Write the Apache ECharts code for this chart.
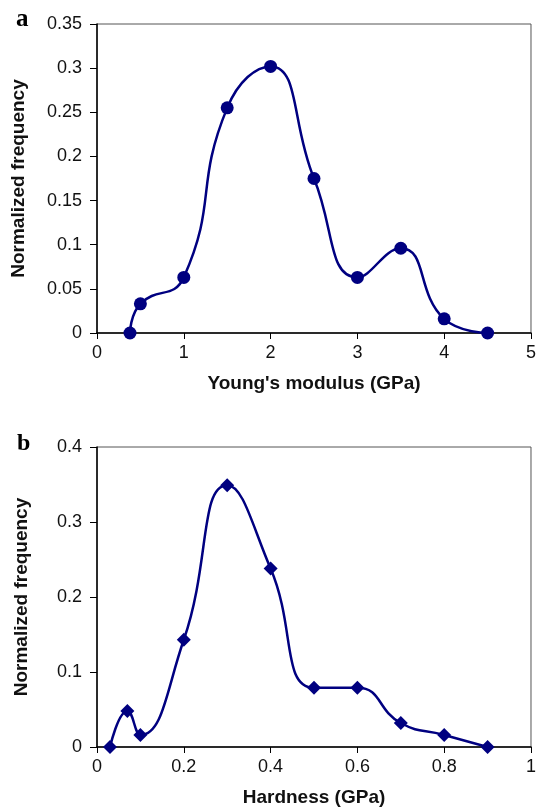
<!DOCTYPE html>
<html>
<head>
<meta charset="utf-8">
<script src="https://cdn.jsdelivr.net/npm/echarts@6/dist/echarts.min.js"></script>
<style>
  html, body { margin: 0; padding: 0; background: #fff; }
  #main { width: 539px; height: 811px; }
</style>
</head>
<body>
<div id="main"></div>
<script>
// panel a: Young's modulus distribution
const modulusX = [0.38, 0.5, 1, 1.5, 2, 2.5, 3, 3.5, 4, 4.5];
const modulusFreq = [0, 0.033, 0.063, 0.255, 0.302, 0.175, 0.063, 0.096, 0.016, 0];

// panel b: hardness distribution
const hardnessX = [0.03, 0.07, 0.1, 0.2, 0.3, 0.4, 0.5, 0.6, 0.7, 0.8, 0.9];
const hardnessFreq = [0, 0.048, 0.016, 0.143, 0.349, 0.238, 0.079, 0.079, 0.032, 0.016, 0];

const NAVY = '#000080';
const labelFont = { color: '#111', fontSize: 18, fontFamily: 'Liberation Sans, Arial, sans-serif' };
const nameFont = { color: '#111', fontSize: 19, fontWeight: 'bold', fontFamily: 'Liberation Sans, Arial, sans-serif' };
const fmt = v => String(+v.toFixed(2));

function xAxisFor(gridIndex, name, max, interval) {
  return {
    type: 'value', gridIndex, min: 0, max, interval,
    name, nameLocation: 'middle', nameGap: 41, nameTextStyle: nameFont,
    axisLine: { show: true, onZero: false, lineStyle: { color: '#000', width: 1.5 } },
    axisTick: { show: true, inside: false, length: 6, lineStyle: { color: '#000' } },
    axisLabel: Object.assign({ margin: 11, formatter: fmt }, labelFont),
    splitLine: { show: false }
  };
}

function yAxisFor(gridIndex, max, interval, gap) {
  return {
    type: 'value', gridIndex, min: 0, max, interval,
    name: 'Normalized frequency', nameLocation: 'middle', nameGap: gap, nameRotate: 90,
    nameTextStyle: nameFont,
    axisLine: { show: true, lineStyle: { color: '#000', width: 1.5 } },
    axisTick: { show: true, inside: false, length: 7, lineStyle: { color: '#000' } },
    axisLabel: Object.assign({ margin: 15, formatter: fmt }, labelFont),
    splitLine: { show: false }
  };
}

const chart = echarts.init(document.getElementById('main'));
chart.setOption({
  backgroundColor: '#fff',
  animation: false,
  grid: [
    { left: 97, top: 24, width: 436, height: 309, show: true, borderColor: '#555', borderWidth: 1 },
    { left: 97, top: 447, width: 437, height: 300, show: true, borderColor: '#555', borderWidth: 1 }
  ],
  graphic: [
    { type: 'text', left: 16, top: 7, style: { text: 'a', font: 'bold 25px "Liberation Serif", serif', fill: '#000' } },
    { type: 'text', left: 17, top: 432, style: { text: 'b', font: 'bold 24px "Liberation Serif", serif', fill: '#000' } }
  ],
  xAxis: [
    xAxisFor(0, "Young's modulus (GPa)", 5, 1),
    xAxisFor(1, 'Hardness (GPa)', 1, 0.2)
  ],
  yAxis: [
    yAxisFor(0, 0.35, 0.05, 69),
    yAxisFor(1, 0.4, 0.1, 66)
  ],
  series: [
    {
      type: 'line', xAxisIndex: 0, yAxisIndex: 0, smooth: 0.5,
      symbol: 'circle', symbolSize: 13,
      lineStyle: { color: NAVY, width: 2.5 },
      itemStyle: { color: NAVY },
      data: modulusX.map((x, i) => [x, modulusFreq[i]])
    },
    {
      type: 'line', xAxisIndex: 1, yAxisIndex: 1, smooth: 0.5,
      symbol: 'diamond', symbolSize: 14,
      lineStyle: { color: NAVY, width: 2.5 },
      itemStyle: { color: NAVY },
      data: hardnessX.map((x, i) => [x, hardnessFreq[i]])
    }
  ]
});
</script>
</body>
</html>
